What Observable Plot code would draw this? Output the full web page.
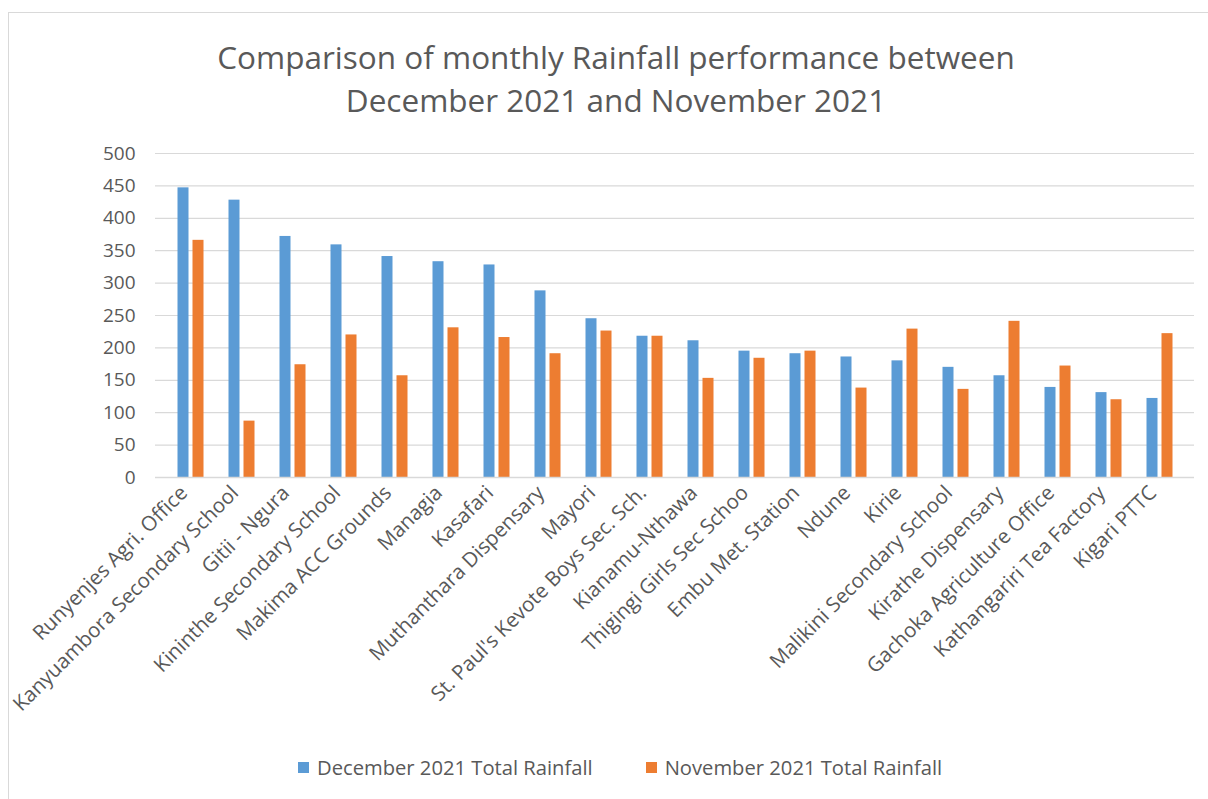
<!DOCTYPE html>
<html>
<head>
<meta charset="utf-8">
<script src="https://cdn.jsdelivr.net/npm/d3@7"></script>
<script src="https://cdn.jsdelivr.net/npm/@observablehq/plot@0.6"></script>
<style>
  html, body { margin: 0; padding: 0; background: #fff; }
  body { width: 1208px; height: 799px; position: relative; overflow: hidden; font-family: "Open Sans", sans-serif; }
  #frame { position: absolute; left: 8px; top: 12px; width: 1216px; height: 800px; border: 1px solid #d9d9d9; box-sizing: border-box; }
  #title { position: absolute; left: 0; width: 1232px; top: 35px; text-align: center; font-size: 31.5px; line-height: 43px; color: #595959; }
  #chart { position: absolute; left: 0; top: 130px; }
  #legend { position: absolute; top: 753px; left: 298px; display: flex; font-size: 20.2px; color: #595959; line-height: 28px; }
  .item { display: flex; align-items: center; gap: 8px; }
  .item + .item { margin-left: 53px; }
  .sw { width: 11px; height: 11px; display: inline-block; }
</style>
</head>
<body>
<div id="frame"></div>
<div id="title">Comparison of monthly Rainfall performance between<br>December 2021 and November 2021</div>
<div id="chart"></div>
<div id="legend"></div>
<script>
const stations = [
  "Runyenjes Agri. Office", "Kanyuambora Secondary School", "Gitii - Ngura", "Kininthe Secondary School",
  "Makima ACC Grounds", "Managia", "Kasafari", "Muthanthara Dispensary", "Mayori",
  "St. Paul's Kevote Boys Sec. Sch.", "Kianamu-Nthawa", "Thigingi Girls Sec Schoo", "Embu Met. Station",
  "Ndune", "Kirie", "Malikini Secondary School", "Kirathe Dispensary", "Gachoka Agriculture Office",
  "Kathangariri Tea Factory", "Kigari PTTC"
];
const december = [447, 428, 372, 359, 341, 333, 328, 288, 245, 218, 211, 195, 191, 186, 180, 170, 157, 139, 131, 122];
const november = [366, 87, 174, 220, 157, 231, 216, 191, 226, 218, 153, 184, 195, 138, 229, 136, 241, 172, 120, 222];
const seriesNames = ["December 2021 Total Rainfall", "November 2021 Total Rainfall"];
const colors = ["#5B9BD5", "#ED7D31"];
const yTicks = [0, 50, 100, 150, 200, 250, 300, 350, 400, 450, 500];

const decData = stations.map((s, i) => ({station: s, value: december[i]}));
const novData = stations.map((s, i) => ({station: s, value: november[i]}));

const chart = Plot.plot({
  width: 1208,
  height: 620,
  marginLeft: 155,
  marginRight: 14,
  marginTop: 23,
  marginBottom: 273,
  style: { fontFamily: "Open Sans, sans-serif", color: "#595959", background: "transparent", overflow: "visible" },
  x: { domain: stations, paddingInner: 0.79, paddingOuter: 0.395, label: null },
  y: { domain: [0, 500], label: null },
  marks: [
    Plot.gridY(yTicks, { stroke: "#d9d9d9", strokeOpacity: 1, strokeWidth: 1.2 }),
    Plot.axisY(yTicks, { tickSize: 0, tickPadding: 20, fontSize: 19, fill: "#595959", label: null }),
    Plot.axisX({ tickSize: 0, tickPadding: 12, tickRotate: -45, fontSize: 20.5, fill: "#595959", label: null, dx: -7 }),
    Plot.barY(decData, { x: "station", y: "value", fill: colors[0], dx: -7.5 }),
    Plot.barY(novData, { x: "station", y: "value", fill: colors[1], dx: 7.5 }),
    Plot.ruleY([0], { stroke: "#d9d9d9", strokeWidth: 1.5 })
  ]
});
document.getElementById("chart").appendChild(chart);

const legend = document.getElementById("legend");
seriesNames.forEach((n, i) => {
  const it = document.createElement("div");
  it.className = "item";
  it.innerHTML = `<span class="sw" style="background:${colors[i]}"></span><span>${n}</span>`;
  legend.appendChild(it);
});
</script>
</body>
</html>
